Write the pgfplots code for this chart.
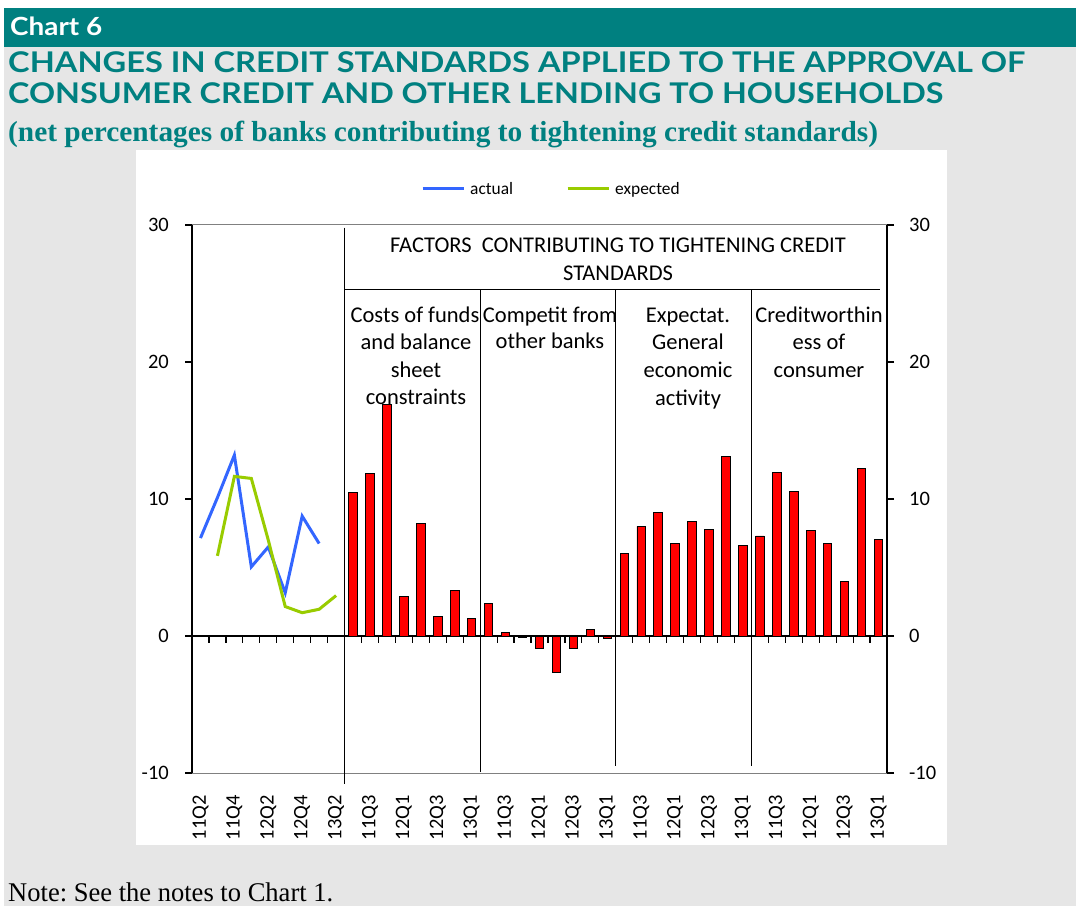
\documentclass[border=0pt]{standalone}
\usepackage{pgfplots}
\pgfplotsset{compat=1.18}
\usepackage{fontspec}
\setmainfont{Carlito}
\newfontfamily\titlefont{Lato}
\newfontfamily\serifont{Liberation Serif}
\usepackage{graphicx}
\definecolor{teal1}{RGB}{0,128,128}
\definecolor{bgGray}{RGB}{230,230,230}
\definecolor{blueL}{RGB}{51,102,255}
\definecolor{greenL}{RGB}{153,204,0}
\definecolor{barRed}{RGB}{255,0,0}
\frenchspacing
\begin{document}
\begin{tikzpicture}
\useasboundingbox (0pt,0pt) rectangle (1076pt,906pt);
\fill[white] (0pt,0pt) rectangle (1076pt,906pt);
\fill[bgGray] (4pt,0pt) rectangle (1076pt,859pt);
\fill[teal1] (4pt,859pt) rectangle (1076pt,898pt);
\fill[white] (136pt,61pt) rectangle (947pt,756pt);
% header texts
\node[anchor=base west, inner sep=0pt, text=white] at (10pt,870pt)
  {\resizebox{92pt}{\height}{\titlefont\bfseries\fontsize{25}{28}\selectfont Chart 6}};
\node[anchor=base west, inner sep=0pt, text=teal1] at (8pt,833pt)
  {\resizebox{1017pt}{\height}{\titlefont\bfseries\fontsize{28.5}{32}\selectfont CHANGES IN CREDIT STANDARDS APPLIED TO THE APPROVAL OF}};
\node[anchor=base west, inner sep=0pt, text=teal1] at (8pt,802pt)
  {\resizebox{935pt}{\height}{\titlefont\bfseries\fontsize{28.5}{32}\selectfont CONSUMER CREDIT AND OTHER LENDING TO HOUSEHOLDS}};
\node[anchor=base west, inner sep=0pt, text=teal1] at (8pt,764pt)
  {\resizebox{870pt}{\height}{\serifont\bfseries\fontsize{29}{32}\selectfont (net percentages of banks contributing to tightening credit standards)}};
\node[anchor=base west, inner sep=0pt, text=black] at (8pt,5pt)
  {\resizebox{325pt}{\height}{\serifont\fontsize{27}{30}\selectfont Note: See the notes to Chart 1.}};
% in-plot texts
\begin{scope}[every node/.style={anchor=base, inner sep=0pt, font=\fontsize{22.5}{26}\selectfont}]
\node at (618pt,653pt) {FACTORS\ \ CONTRIBUTING TO TIGHTENING CREDIT};
\node at (618pt,625pt) {STANDARDS};
\node at (415pt,583pt) {Costs of funds};
\node at (416pt,556pt) {and balance};
\node at (416pt,528pt) {sheet};
\node at (416pt,501pt) {constraints};
\node at (550pt,583pt) {Competit from};
\node at (550pt,557pt) {other banks};
\node at (688pt,583pt) {Expectat.};
\node at (688pt,556pt) {General};
\node at (688pt,528pt) {economic};
\node at (688pt,500pt) {activity};
\node at (819pt,583pt) {Creditworthin};
\node at (819pt,556pt) {ess of};
\node at (819pt,528pt) {consumer};
\end{scope}

\begin{axis}[
  at={(192pt,133pt)}, anchor=south west, scale only axis,
  width=695pt, height=548pt,
  xmin=-0.5, xmax=40.5, ymin=-10, ymax=30,
  clip=false,
  separate axis lines,
  x axis line style={draw=gray, line width=1pt},
  y axis line style={draw=black, line width=1.3pt},
  ytick={-10,0,10,20,30}, yticklabels={-10,0,10,20,30},
  ytick pos=left, tick align=outside, major tick length=7pt,
  ytick style={black, line width=1.2pt},
  yticklabel style={font=\fontsize{20.5}{24}\selectfont, inner sep=0pt},
  yticklabel shift=16pt,
  xtick={0,2,...,40},
  xticklabels={11Q2,11Q4,12Q2,12Q4,13Q2,11Q3,12Q1,12Q3,13Q1,11Q3,12Q1,12Q3,13Q1,11Q3,12Q1,12Q3,13Q1,11Q3,12Q1,12Q3,13Q1},
  xtick style={draw=none},
  xticklabel style={font=\fontsize{20.5}{24}\selectfont, rotate=90, anchor=east, inner sep=0pt},
  xticklabel shift=15pt,
  legend columns=2,
  legend style={at={(0.3295,1.0657)}, anchor=west, draw=none, fill=none,
    inner sep=0pt, font=\fontsize{17.4}{20}\selectfont,
    nodes={inner sep=0pt, anchor=west},
    /tikz/every odd column/.append style={column sep=5pt},
    /tikz/every even column/.append style={column sep=53pt}},
  legend image code/.code={\draw[#1, line width=3pt] (0pt,0pt) -- (41pt,0pt);},
]
% zero line with downward ticks
\draw[black, line width=1.3pt] (axis cs:-0.5,0) -- (axis cs:40.5,0);
\pgfplotsinvokeforeach{0.5,1.5,...,39.5}{\draw[black, line width=1.2pt] (axis cs:#1,0) -- ++(0pt,-7pt);}
% section dividers
\draw[black, line width=1.3pt] (axis cs:8.5,29.8) -- (axis cs:8.5,-10.8);
\draw[black, line width=1.3pt] (axis cs:16.5,25.3) -- (axis cs:16.5,-9.9);
\draw[black, line width=1.3pt] (axis cs:24.5,25.3) -- (axis cs:24.5,-9.5);
\draw[black, line width=1.3pt] (axis cs:32.5,25.3) -- (axis cs:32.5,-9.5);
\draw[black, line width=1.3pt] (axis cs:8.5,25.3) -- (axis cs:40.1,25.3);
% bars
\addplot[ybar, bar width=8.5pt, fill=barRed, draw=black, line width=0.9pt, forget plot] coordinates {
 (9,10.45) (10,11.85) (11,16.9) (12,2.9) (13,8.2) (14,1.4) (15,3.35) (16,1.3)
 (17,2.35) (18,0.25) (19,-0.1) (20,-0.9) (21,-2.65) (22,-0.9) (23,0.5) (24,-0.2)
 (25,6.05) (26,8.0) (27,9.05) (28,6.75) (29,8.35) (30,7.8) (31,13.1) (32,6.6)
 (33,7.3) (34,11.95) (35,10.55) (36,7.7) (37,6.75) (38,3.95) (39,12.25) (40,7.05)
};
% lines
\addplot[blueL, line width=3pt] coordinates {
 (0,7.15) (1,10.1) (2,13.2) (3,5.05) (4,6.5) (5,3.15) (6,8.75) (7,6.75)
};
\addlegendentry{actual}
\addplot[greenL, line width=3pt] coordinates {
 (1,5.85) (2,11.65) (3,11.5) (4,7.0) (5,2.15) (6,1.7) (7,1.95) (8,2.95)
};
\addlegendentry{expected}
\end{axis}

\begin{axis}[
  at={(192pt,133pt)}, anchor=south west, scale only axis,
  width=695pt, height=548pt,
  xmin=-0.5, xmax=40.5, ymin=-10, ymax=30,
  axis x line=none, axis y line*=right,
  y axis line style={draw=black, line width=1.3pt},
  ytick={-10,0,10,20,30}, yticklabels={-10,0,10,20,30},
  tick align=outside, major tick length=7pt,
  ytick style={black, line width=1.2pt},
  yticklabel style={font=\fontsize{20.5}{24}\selectfont, inner sep=0pt},
  yticklabel shift=15pt,
]
\addplot[draw=none] coordinates {(0,0)};
\end{axis}
\end{tikzpicture}
\end{document}
